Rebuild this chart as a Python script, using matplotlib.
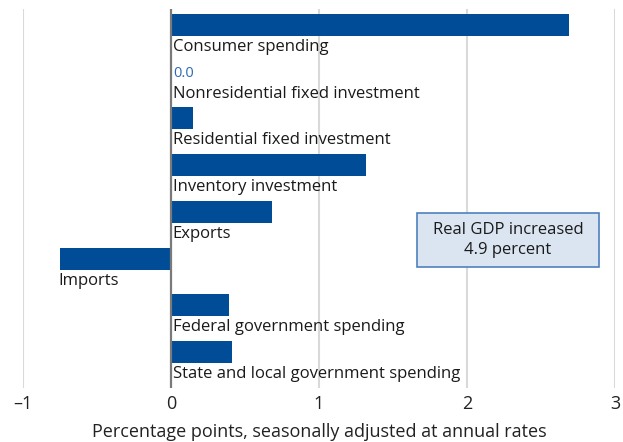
import matplotlib
matplotlib.use("Agg")
import matplotlib.pyplot as plt
from matplotlib.transforms import offset_copy
from matplotlib.patches import Rectangle
import numpy as np

categories = ["Consumer spending", "Nonresidential fixed investment", "Residential fixed investment",
              "Inventory investment", "Exports", "Imports", "Federal government spending",
              "State and local government spending"]
values = [2.69, 0.0, 0.15, 1.32, 0.68, -0.75, 0.39, 0.41]
xticks = [-1, 0, 1, 2, 3]
xtick_labels = ["\u20131", "0", "1", "2", "3"]
xlabel = "Percentage points, seasonally adjusted at annual rates"
box_text = "Real GDP increased\n4.9 percent"

plt.rcParams['font.family'] = ['Open Sans', 'DejaVu Sans']

fig = plt.figure(figsize=(6.23, 4.42), dpi=100)
W, H = 623, 442
ax = fig.add_axes([22.7 / W, 1 - 388 / H, (615.3 - 22.7) / W, (388 - 9) / H])

bar_color = "#004c97"
y = np.arange(len(categories))
ax.barh(y, values, height=0.47, color=bar_color, zorder=3)

ax.set_xlim(-1, 3)
ax.set_ylim(7.77, -0.343)

for xv in [-1, 1, 2, 3]:
    ax.axvline(xv, color="#d9d9d9", lw=1.5, zorder=1)
ax.axvline(0, color="#7a7a7a", lw=1.6, zorder=4)

for sp in ax.spines.values():
    sp.set_visible(False)
ax.set_yticks([])
ax.set_xticks(xticks)
ax.set_xticklabels(xtick_labels, fontsize=13, color="#222222")
ax.tick_params(axis="x", length=0, pad=5)
ax.set_xlabel(xlabel, fontsize=13, color="#222222", labelpad=7)

trans_pos = offset_copy(ax.transData, fig=fig, x=2, y=0, units="dots")
trans_neg = offset_copy(ax.transData, fig=fig, x=-1, y=0, units="dots")
for i, (c, v) in enumerate(zip(categories, values)):
    tr = trans_neg if v < 0 else trans_pos
    ax.text(min(0, v), i + 0.47, c, transform=tr, ha="left", va="center",
            fontsize=12, color="#1a1a1a", zorder=5)
    if v == 0:
        ax.text(0, i + 0.04, f"{v:.1f}", transform=trans_pos, ha="left", va="center",
                fontsize=10.5, color="#2a6ab5", zorder=5)

ax.add_patch(Rectangle((1.662, 4.03), 2.89 - 1.662, 5.18 - 4.03, facecolor="#dbe5f1",
                       edgecolor="#4f81bd", lw=1.2, zorder=6))
ax.text((1.662 + 2.89) / 2, (4.03 + 5.18) / 2, box_text, ha="center", va="center",
        fontsize=12, color="#1a1a1a", linespacing=1.3, zorder=7)

fig.savefig("out.png", dpi=100)
